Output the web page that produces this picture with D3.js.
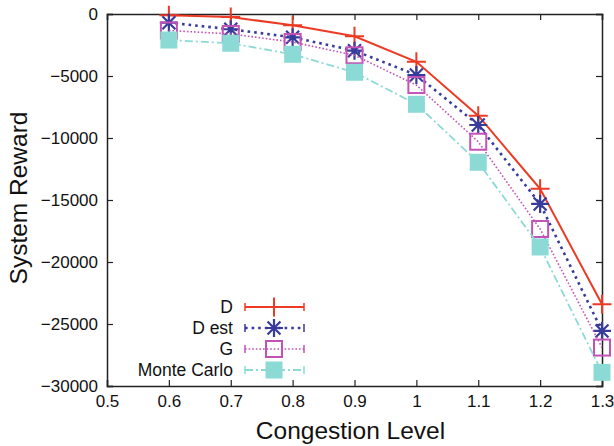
<!DOCTYPE html>
<html>
<head>
<meta charset="utf-8">
<script src="https://cdn.jsdelivr.net/npm/d3@7"></script>
<style>
  body { margin: 0; background: #fff; }
  svg text { font-family: "Liberation Sans", Arial, sans-serif; fill: #111; }
</style>
</head>
<body>
<div id="chart"></div>
<script>
// data
var levels = [0.6, 0.7, 0.8, 0.9, 1.0, 1.1, 1.2, 1.3];
var dVals = [-100, -250, -900, -1800, -3850, -8200, -14100, -23400];
var dEstVals = [-700, -1230, -1880, -2960, -4920, -8950, -15320, -25560];
var gVals = [-1330, -1610, -2260, -3330, -5730, -10300, -17340, -26900];
var mcVals = [-2100, -2360, -3250, -4700, -7280, -11960, -18790, -28900];
var seriesNames = ['D', 'D est', 'G', 'Monte Carlo'];
var xTicks = [0.5, 0.6, 0.7, 0.8, 0.9, 1.0, 1.1, 1.2, 1.3];
var xTickLabels = ['0.5', '0.6', '0.7', '0.8', '0.9', '1', '1.1', '1.2', '1.3'];
var yTicks = [0, -5000, -10000, -15000, -20000, -25000, -30000];

var W = 614, H = 446;
var margin = {top: 14, right: 12, bottom: 60, left: 107};

var svg = d3.select('#chart').append('svg')
    .attr('width', W).attr('height', H);

var xScale = d3.scaleLinear().domain([0.5, 1.3]).range([margin.left, W - margin.right]);
var yScale = d3.scaleLinear().domain([-30000, 0]).range([H - margin.bottom, margin.top]);

var styles = [
  {color: '#ec3b24', width: 2, dash: null, marker: 'plus'},
  {color: '#363b9c', width: 2.6, dash: '2.6,4', marker: 'star'},
  {color: '#c452b6', width: 1.6, dash: '1.6,2', marker: 'box'},
  {color: '#8cdad5', width: 1.8, dash: '8,3,2,3', marker: 'fbox'}
];
var allVals = [dVals, dEstVals, gVals, mcVals];

// axes, ticks inward on all four sides
var xAxis = d3.axisBottom(xScale).tickValues(xTicks).tickSize(-6).tickPadding(9)
    .tickFormat(function(d, i) { return xTickLabels[i]; });
var yAxis = d3.axisLeft(yScale).tickValues(yTicks).tickSize(-6).tickPadding(9)
    .tickFormat(d3.format('d'));

var gx = svg.append('g').attr('transform', 'translate(0,' + (H - margin.bottom) + ')').call(xAxis);
var gy = svg.append('g').attr('transform', 'translate(' + margin.left + ',0)').call(yAxis);
svg.append('g').attr('transform', 'translate(0,' + margin.top + ')')
   .call(d3.axisTop(xScale).tickValues(xTicks).tickSize(-6).tickFormat(''));
svg.append('g').attr('transform', 'translate(' + (W - margin.right) + ',0)')
   .call(d3.axisRight(yScale).tickValues(yTicks).tickSize(-6).tickFormat(''));

svg.selectAll('.domain').attr('stroke', '#222').attr('stroke-width', 1.5);
svg.selectAll('.tick line').attr('stroke', '#222').attr('stroke-width', 1.2);
svg.selectAll('.tick text').style('font-size', '17px').attr('fill', '#111');

// axis labels
svg.append('text')
   .attr('x', (margin.left + W - margin.right) / 2 - 4)
   .attr('y', 439)
   .attr('text-anchor', 'middle')
   .style('font-size', '24.5px')
   .text('Congestion Level');
svg.append('text')
   .attr('transform', 'translate(27,198) rotate(-90)')
   .attr('text-anchor', 'middle')
   .style('font-size', '24.5px')
   .text('System Reward');

var drawMarker = function(g, type, color, x, y) {
  if (type == 'plus') {
    g.append('path').attr('d', 'M' + (x - 9.5) + ',' + y + 'H' + (x + 9.5) + 'M' + x + ',' + (y - 9.5) + 'V' + (y + 9.5))
     .attr('stroke', color).attr('stroke-width', 2).attr('fill', 'none');
  } else if (type == 'star') {
    var r = 9, s = r * 0.72;
    g.append('path').attr('d',
        'M' + (x - r) + ',' + y + 'H' + (x + r) +
        'M' + x + ',' + (y - r) + 'V' + (y + r) +
        'M' + (x - s) + ',' + (y - s) + 'L' + (x + s) + ',' + (y + s) +
        'M' + (x - s) + ',' + (y + s) + 'L' + (x + s) + ',' + (y - s))
     .attr('stroke', color).attr('stroke-width', 2.2).attr('fill', 'none');
  } else if (type == 'box') {
    g.append('rect').attr('x', x - 8).attr('y', y - 8).attr('width', 16).attr('height', 16)
     .attr('stroke', color).attr('stroke-width', 2).attr('fill', 'none');
  } else {
    g.append('rect').attr('x', x - 8.5).attr('y', y - 8.5).attr('width', 17).attr('height', 17)
     .attr('fill', color);
  }
};

var line = d3.line()
    .x(function(d) { return xScale(d[0]); })
    .y(function(d) { return yScale(d[1]); });

// series
allVals.forEach(function(vals, k) {
  var st = styles[k];
  var pts = levels.map(function(l, i) { return [l, vals[i]]; });
  var g = svg.append('g');
  g.append('path')
   .attr('d', line(pts))
   .attr('fill', 'none')
   .attr('stroke', st.color)
   .attr('stroke-width', st.width)
   .attr('stroke-dasharray', st.dash);
  pts.forEach(function(p) {
    drawMarker(g, st.marker, st.color, xScale(p[0]), yScale(p[1]));
  });
});

// legend
var legend = svg.append('g');
seriesNames.forEach(function(name, k) {
  var st = styles[k];
  var y = 307 + k * 21;
  legend.append('text')
     .attr('x', 233).attr('y', y).attr('dy', '0.36em')
     .attr('text-anchor', 'end')
     .style('font-size', '17.5px')
     .text(name);
  legend.append('path')
     .attr('d', 'M245,' + y + 'H304')
     .attr('stroke', st.color).attr('stroke-width', st.width)
     .attr('stroke-dasharray', st.dash).attr('fill', 'none');
  legend.append('path')
     .attr('d', 'M245,' + (y - 4) + 'V' + (y + 4) + 'M304,' + (y - 4) + 'V' + (y + 4))
     .attr('stroke', st.color).attr('stroke-width', 1.5);
  drawMarker(legend, st.marker, st.color, 274, y);
});
</script>
</body>
</html>
